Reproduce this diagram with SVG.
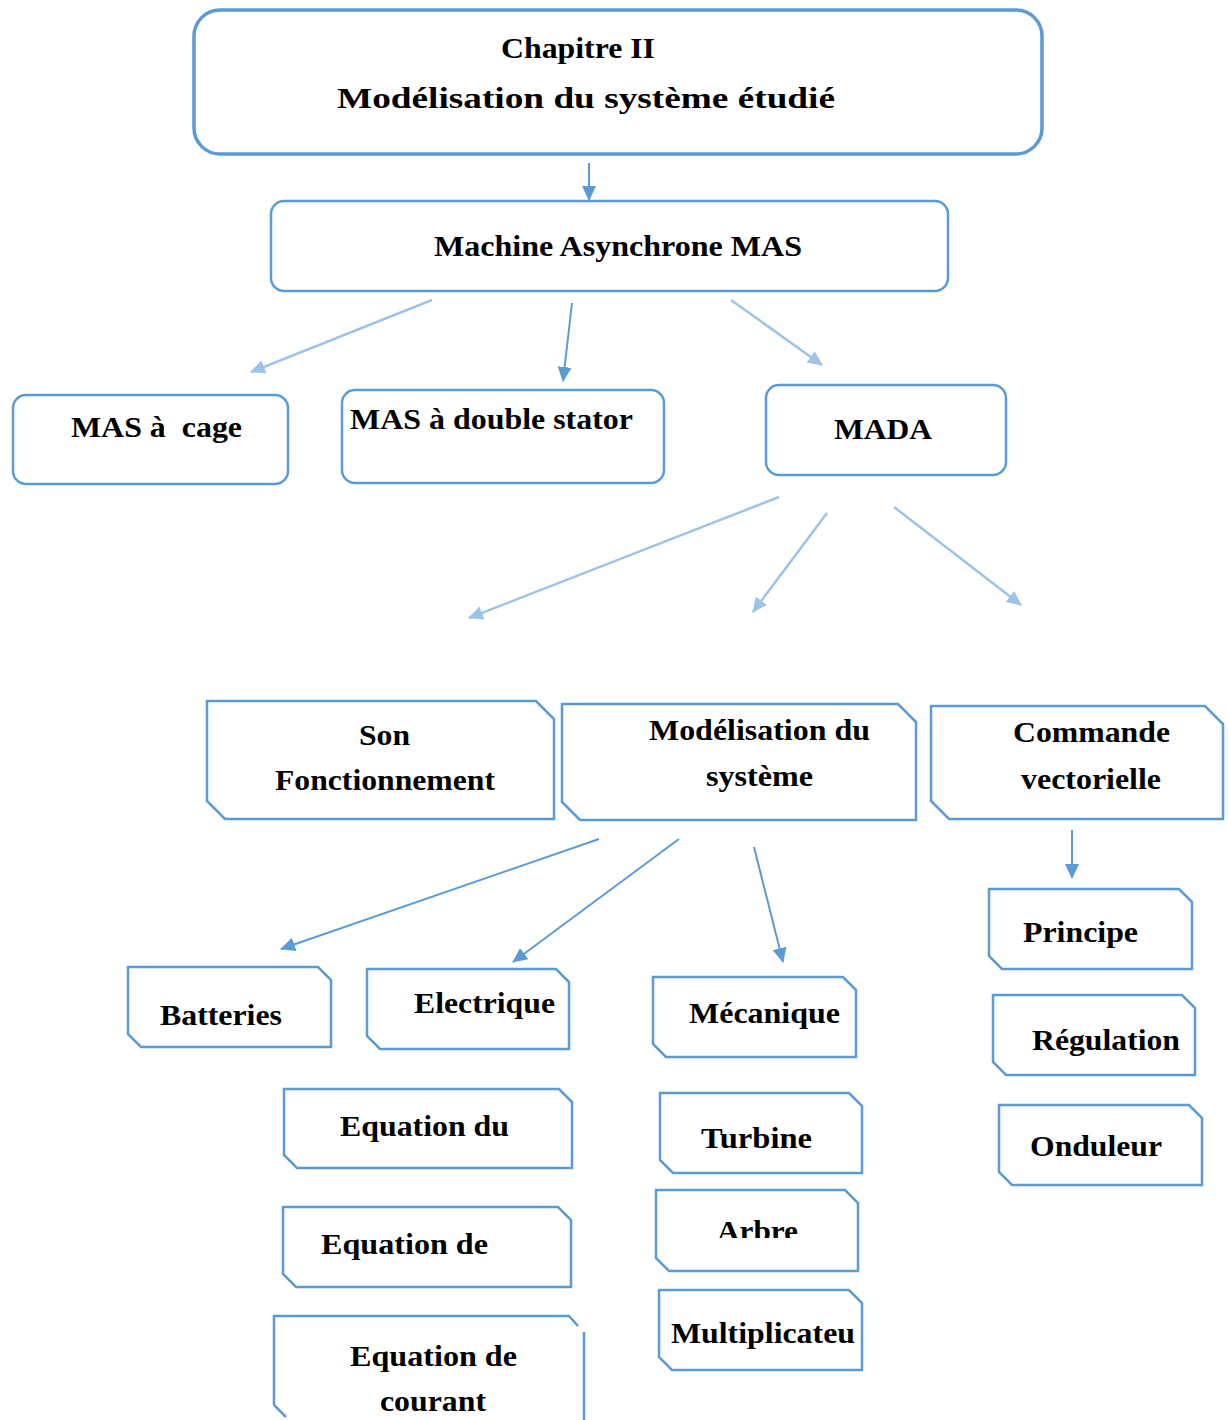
<svg xmlns="http://www.w3.org/2000/svg" width="1228" height="1420" viewBox="0 0 1228 1420">
<style>
.t{font-family:"Liberation Serif","Times New Roman",serif;font-weight:bold;fill:#000;font-size:30px;white-space:pre}
.b{fill:#fff;stroke:#5b9bd5;stroke-width:2.5}
.dk{stroke:#5b9bd5;stroke-width:2;fill:none;marker-end:url(#ad)}
.lt{stroke:#9dc3e6;stroke-width:2.5;fill:none;marker-end:url(#al)}
</style>
<defs>
<marker id="ad" markerUnits="userSpaceOnUse" markerWidth="16" markerHeight="14" refX="14" refY="7" orient="auto"><path d="M0,0 L15,7 L0,14 Z" fill="#5b9bd5"/></marker>
<marker id="al" markerUnits="userSpaceOnUse" markerWidth="16" markerHeight="14" refX="14" refY="7" orient="auto"><path d="M0,0 L15,7 L0,14 Z" fill="#9dc3e6"/></marker>
<clipPath id="clipArbre"><rect x="650" y="1190" width="220" height="48"/></clipPath>
</defs>
<rect width="1228" height="1420" fill="#fff"/>

<g id="connectors">
<line class="dk" x1="589" y1="163" x2="589" y2="200"/>
<line class="lt" x1="432" y1="300" x2="251" y2="372"/>
<line class="dk" x1="572" y1="303" x2="563" y2="381"/>
<line class="lt" x1="731" y1="300" x2="822" y2="365"/>
<line class="lt" x1="779" y1="497" x2="469" y2="618"/>
<line class="lt" x1="827" y1="513" x2="753" y2="612"/>
<line class="lt" x1="894" y1="507" x2="1021" y2="605"/>
<line class="dk" x1="599" y1="839" x2="281" y2="949"/>
<line class="dk" x1="679" y1="839" x2="513" y2="962"/>
<line class="dk" x1="754" y1="847" x2="783" y2="962"/>
<line class="dk" x1="1072" y1="830" x2="1072" y2="878"/>
</g>

<g id="n-chapitre">
<rect class="b" x="194" y="10" width="848" height="144" rx="26" style="stroke-width:3.5"/>
<text class="t" x="578" y="58" text-anchor="middle" font-size="27" textLength="154" lengthAdjust="spacingAndGlyphs">Chapitre II</text>
<text class="t" x="586" y="108" text-anchor="middle" font-size="36" textLength="498" lengthAdjust="spacingAndGlyphs">Modélisation du système étudié</text>
</g>

<g id="n-mas">
<rect class="b" x="271" y="201" width="677" height="90" rx="13"/>
<text class="t" x="618" y="256" text-anchor="middle" textLength="368" lengthAdjust="spacingAndGlyphs">Machine Asynchrone MAS</text>
</g>

<g id="n-cage">
<rect class="b" x="13" y="395" width="275" height="89" rx="13"/>
<text class="t" x="71" y="437" textLength="171" lengthAdjust="spacingAndGlyphs">MAS à  cage</text>
</g>

<g id="n-double">
<rect class="b" x="342" y="390" width="322" height="93" rx="13"/>
<text class="t" x="350" y="429" textLength="283" lengthAdjust="spacingAndGlyphs">MAS à double stator</text>
</g>

<g id="n-mada">
<rect class="b" x="766" y="385" width="240" height="90" rx="13"/>
<text class="t" x="834" y="439" textLength="98" lengthAdjust="spacingAndGlyphs">MADA</text>
</g>

<g id="n-son">
<polygon class="b" points="207,701 536,701 554,719 554,819 225,819 207,801"/>
<text class="t" x="359" y="745" textLength="51" lengthAdjust="spacingAndGlyphs">Son</text>
<text class="t" x="275" y="790" textLength="220" lengthAdjust="spacingAndGlyphs">Fonctionnement</text>
</g>

<g id="n-modsys">
<polygon class="b" points="562,704 898,704 916,722 916,820 580,820 562,802"/>
<text class="t" x="649" y="740" textLength="221" lengthAdjust="spacingAndGlyphs">Modélisation du</text>
<text class="t" x="706" y="786" textLength="107" lengthAdjust="spacingAndGlyphs">système</text>
</g>

<g id="n-commande">
<polygon class="b" points="931,706 1205,706 1223,724 1223,819 949,819 931,801"/>
<text class="t" x="1013" y="742" textLength="157" lengthAdjust="spacingAndGlyphs">Commande</text>
<text class="t" x="1021" y="789" textLength="140" lengthAdjust="spacingAndGlyphs">vectorielle</text>
</g>

<g id="n-principe">
<polygon class="b" points="989,889 1179,889 1192,902 1192,969 1002,969 989,956"/>
<text class="t" x="1023" y="942" textLength="115" lengthAdjust="spacingAndGlyphs">Principe</text>
</g>

<g id="n-regulation">
<polygon class="b" points="993,995 1182,995 1195,1008 1195,1075 1006,1075 993,1062"/>
<text class="t" x="1032" y="1050" textLength="148" lengthAdjust="spacingAndGlyphs">Régulation</text>
</g>

<g id="n-onduleur">
<polygon class="b" points="999,1105 1189,1105 1202,1118 1202,1185 1012,1185 999,1172"/>
<text class="t" x="1030" y="1156" textLength="132" lengthAdjust="spacingAndGlyphs">Onduleur</text>
</g>

<g id="n-batteries">
<polygon class="b" points="128,967 318,967 331,980 331,1047 141,1047 128,1034"/>
<text class="t" x="160" y="1025" textLength="122" lengthAdjust="spacingAndGlyphs">Batteries</text>
</g>

<g id="n-electrique">
<polygon class="b" points="367,969 556,969 569,982 569,1049 380,1049 367,1036"/>
<text class="t" x="414" y="1013" textLength="141" lengthAdjust="spacingAndGlyphs">Electrique</text>
</g>

<g id="n-mecanique">
<polygon class="b" points="653,977 843,977 856,990 856,1057 666,1057 653,1044"/>
<text class="t" x="689" y="1023" textLength="151" lengthAdjust="spacingAndGlyphs">Mécanique</text>
</g>

<g id="n-eqdu">
<polygon class="b" points="284,1089 559,1089 572,1102 572,1168 297,1168 284,1155"/>
<text class="t" x="340" y="1136" textLength="169" lengthAdjust="spacingAndGlyphs">Equation du</text>
</g>

<g id="n-eqde">
<polygon class="b" points="283,1207 558,1207 571,1220 571,1287 296,1287 283,1274"/>
<text class="t" x="321" y="1254" textLength="167" lengthAdjust="spacingAndGlyphs">Equation de</text>
</g>

<g id="n-eqcourant">
<polyline class="b" style="fill:none" points="274,1405 274,1316 569,1316 578,1326"/>
<polyline class="b" style="fill:none" points="584,1332 584,1420"/>
<polyline class="b" style="fill:none" points="274,1405 286,1417"/>
<text class="t" x="350" y="1366" textLength="167" lengthAdjust="spacingAndGlyphs">Equation de</text>
<text class="t" x="380" y="1411" textLength="106" lengthAdjust="spacingAndGlyphs">courant</text>
</g>

<g id="n-turbine">
<polygon class="b" points="660,1093 849,1093 862,1106 862,1173 673,1173 660,1160"/>
<text class="t" x="701" y="1148" textLength="111" lengthAdjust="spacingAndGlyphs">Turbine</text>
</g>

<g id="n-arbre">
<polygon class="b" points="656,1190 845,1190 858,1203 858,1271 669,1271 656,1258"/>
<text class="t" x="717" y="1241" textLength="81" lengthAdjust="spacingAndGlyphs" clip-path="url(#clipArbre)">Arbre</text>
</g>

<g id="n-multiplicateur">
<polygon class="b" points="659,1290 849,1290 862,1303 862,1370 672,1370 659,1357"/>
<text class="t" x="671" y="1343" textLength="184" lengthAdjust="spacingAndGlyphs">Multiplicateu</text>
</g>
</svg>
